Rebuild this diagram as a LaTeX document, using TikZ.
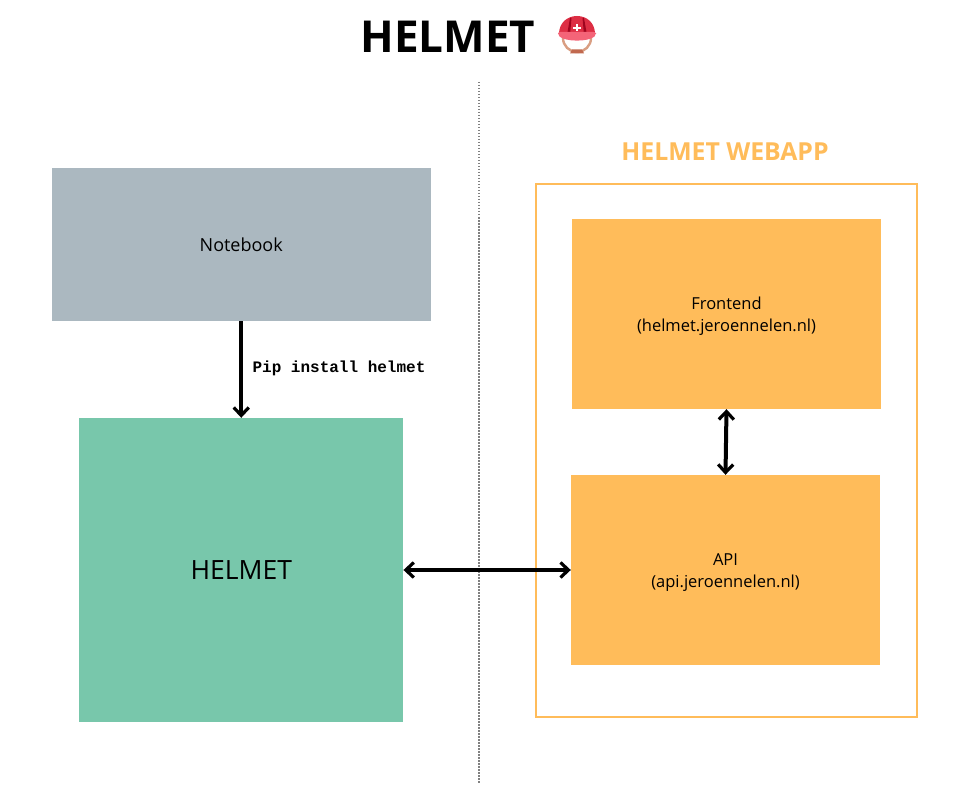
\documentclass[tikz,border=0pt]{standalone}
\usepackage{fontspec}
\setmainfont{Open Sans}
\newfontfamily\cmdfont{Liberation Mono}
\usetikzlibrary{arrows.meta}
\definecolor{notegray}{HTML}{ABB8C0}
\definecolor{helmgreen}{HTML}{78C7AB}
\definecolor{webapporange}{HTML}{FFBC5A}
\tikzset{
    box/.style={inner sep=0pt,align=center,font=\fontsize{16.5}{22}\selectfont,text=black},
    link/.style={line width=4pt,black,arrows={-Straight Barb[length=8pt,width=15pt,line width=3.2pt]}},
    bothlink/.style={line width=4pt,black,arrows={Straight Barb[length=8pt,width=15pt,line width=3.2pt]-Straight Barb[length=8pt,width=15pt,line width=3.2pt]}},
}
\begin{document}
\begin{tikzpicture}[x=1pt,y=-1pt]
    \useasboundingbox(0,0)rectangle(960,786);
    \fill[white](0,0)rectangle(960,786);
    \node(title)at(448,36.5){\fontsize{44}{44}\selectfont\bfseries HELMET};
    % helmet emoji
    \begin{scope}[shift={(577,35)}]
        \draw[color={rgb,255:red,217;green,158;blue,130},line width=2.4pt](-14,3)arc[start angle=180,end angle=360,x radius=14,y radius=-14];
        \fill[color={rgb,255:red,193;green,105;blue,79}](-5,14.5)--(5,14.5)--(7,18.5)--(-7,18.5)--cycle;
        \fill[color={rgb,255:red,221;green,46;blue,68}](-18,-1)..controls(-18,-12)and(-10,-19)..(0,-19)..controls(10,-19)and(18,-12)..(18,-1)--cycle;
        \fill[color={rgb,255:red,160;green,4;blue,30}](-10,0)--(-7,-17)--(-5.5,-17)--(-7,0)--cycle;
        \fill[color={rgb,255:red,160;green,4;blue,30}](10,0)--(7,-17)--(5.5,-17)--(7,0)--cycle;
        \fill[color={rgb,255:red,244;green,100;blue,120},rounded corners=2pt](-19,-3)--(19,-3)--(19,0)..controls(12,7)and(-12,7)..(-19,0)--cycle;
        \fill[white](-1.3,-10.5)rectangle(1.3,-3.5);
        \fill[white](-3.7,-8.3)rectangle(3.7,-5.7);
    \end{scope}
    \draw[line width=1.2pt,gray,dash pattern=on 1.5pt off 1.5pt](479,82)--(479,783);
    \node[box,fill=notegray,minimum width=379pt,minimum height=153pt,font=\fontsize{18}{22}\selectfont](notebook)at(241.25,244.5){Notebook};
    \node[box,fill=helmgreen,minimum width=324pt,minimum height=304pt,font=\fontsize{26.5}{30}\selectfont](helmet)at(241.25,570){HELMET};
    \node[draw=webapporange,line width=2pt,minimum width=381pt,minimum height=532pt,inner sep=0pt](webapp)at(726,450.5){};
    \node[text=webapporange,font=\fontsize{24.8}{28}\selectfont\bfseries](webapptitle)at(725,152){HELMET WEBAPP};
    \node[box,fill=webapporange,minimum width=309pt,minimum height=190pt,text depth=0pt](frontend)at(726.5,314){\raisebox{-1pt}{Frontend}\\\raisebox{-1pt}{(helmet.jeroennelen.nl)}};
    \node[box,fill=webapporange,minimum width=309pt,minimum height=190pt,text depth=0pt](api)at(725.5,570){\raisebox{-1pt}{API}\\\raisebox{-1pt}{(api.jeroennelen.nl)}};
    \draw[link](notebook.south)--(helmet.north)node[pos=.49,right=6pt,font=\fontsize{16}{18}\cmdfont\bfseries]{Pip install helmet};
    \draw[bothlink](frontend.south)--(api.north);
    \draw[bothlink](helmet.east)--(api.west);
\end{tikzpicture}
\end{document}
